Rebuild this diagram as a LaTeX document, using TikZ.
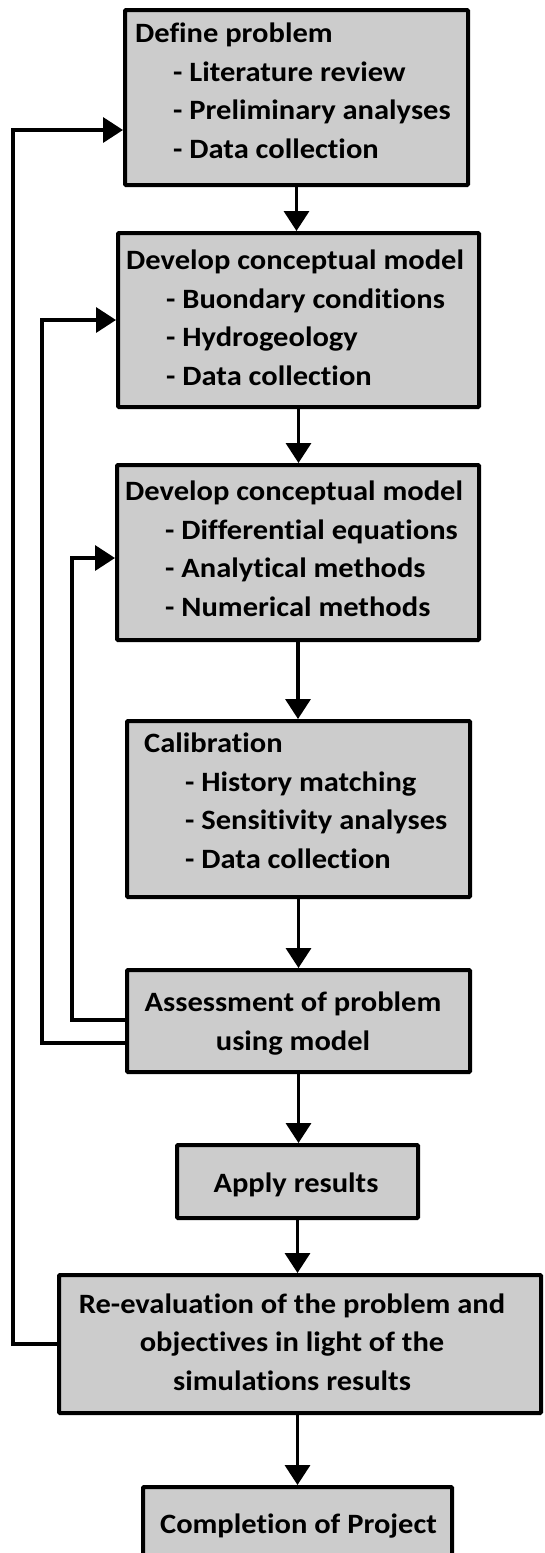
\documentclass[tikz,border=0pt]{standalone}
\usepackage{fontspec}
\setmainfont{Carlito}[FakeStretch=1.09, Ligatures=NoCommon]
\usetikzlibrary{arrows.meta,calc}
\definecolor{boxgray}{RGB}{204,204,204}
\tikzset{
  box/.style={draw=black, line width=4pt, fill=boxgray, rounded corners=1pt, inner sep=0pt},
  lbl/.style={inner sep=0pt, font=\bfseries\fontsize{28}{38.5}\selectfont, align=left, anchor=base west},
  clbl/.style={inner sep=0pt, font=\bfseries\fontsize{28}{38.5}\selectfont, align=center, anchor=base},
  flow/.style={line width=3.5pt, -{Triangle[length=20pt,width=25pt]}},
}
\newcommand{\ind}[1]{\hspace*{#1pt}}
\begin{document}
\begin{tikzpicture}[x=1pt,y=-1pt]
  \clip (0,0) rectangle (544,1553);
  \fill[white] (0,0) rectangle (544,1553);

  % process boxes
  \node[box, minimum width=343pt, minimum height=175pt] (b1) at (296.5,97.5) {};
  \node[box, minimum width=361pt, minimum height=174pt] (b2) at (298.5,320) {};
  \node[box, minimum width=362pt, minimum height=175pt] (b3) at (298,552.5) {};
  \node[box, minimum width=343pt, minimum height=176pt] (b4) at (298.5,809) {};
  \node[box, minimum width=343pt, minimum height=102pt] (b5) at (298.5,1021) {};
  \node[box, minimum width=241pt, minimum height=73pt]  (b6) at (297.5,1181.5) {};
  \node[box, minimum width=482pt, minimum height=138pt] (b7) at (300,1344) {};
  \node[box, minimum width=309pt, minimum height=100pt] (b8) at (297.5,1537) {};

  % box texts (anchored at the baseline of the last line)
  \node[lbl] (t1) at ($(b1.north west)+(12,150)$)
    {Define problem\\\ind{38}- Literature review\\\ind{38}- Preliminary analyses\\\ind{38}- Data collection};
  \node[lbl] (t2) at ($(b2.north west)+(10,154)$)
    {Develop conceptual model\\\ind{40}- Buondary conditions\\\ind{40}- Hydrogeology\\\ind{40}- Data collection};
  \node[lbl] (t3) at ($(b3.north west)+(10,153)$)
    {Develop conceptual model\\\ind{40}- Differential equations\\\ind{40}- Analytical methods\\\ind{40}- Numerical methods};
  \node[lbl] (t4) at ($(b4.north west)+(19,149)$)
    {Calibration\\\ind{41}- History matching\\\ind{41}- Sensitivity analyses\\\ind{41}- Data collection};
  \node[clbl] (t5) at (293,1050) {Assessment of problem\\using model};
  \node[clbl] (t6) at (296,1192) {Apply results};
  \node[clbl] (t7) at (292,1390) {Re-evaluation of the problem and\\objectives in light of the\\simulations results};
  \node[clbl] (t8) at (298.5,1533) {Completion of Project};

  % main flow
  \draw[flow] (b1.south) -- (b1.south |- b2.north);
  \draw[flow] (b2.south) -- (b2.south |- b3.north);
  \draw[flow] (b3.south) -- (b3.south |- b4.north);
  \draw[flow] (b4.south) -- (b4.south |- b5.north);
  \draw[flow] (b5.south) -- (b5.south |- b6.north);
  \draw[flow] (b6.south) -- (b6.south |- b7.north);
  \draw[flow] (b6.south |- b7.south) -- (b6.south |- b8.north);

  % feedback loops
  \coordinate (r1) at (13,130);
  \coordinate (r2) at (42,1043);
  \coordinate (r3) at (72,1020);
  \coordinate (e3) at (72,558);
  \draw[flow] (b7.west) -| (r1) -- (r1 -| b1.west);
  \draw[flow] (r2 -| b5.west) -- (r2) |- (b2.west);
  \draw[flow] (r3 -| b5.west) -- (r3) -- (e3) -- (e3 -| b3.west);
\end{tikzpicture}
\end{document}
